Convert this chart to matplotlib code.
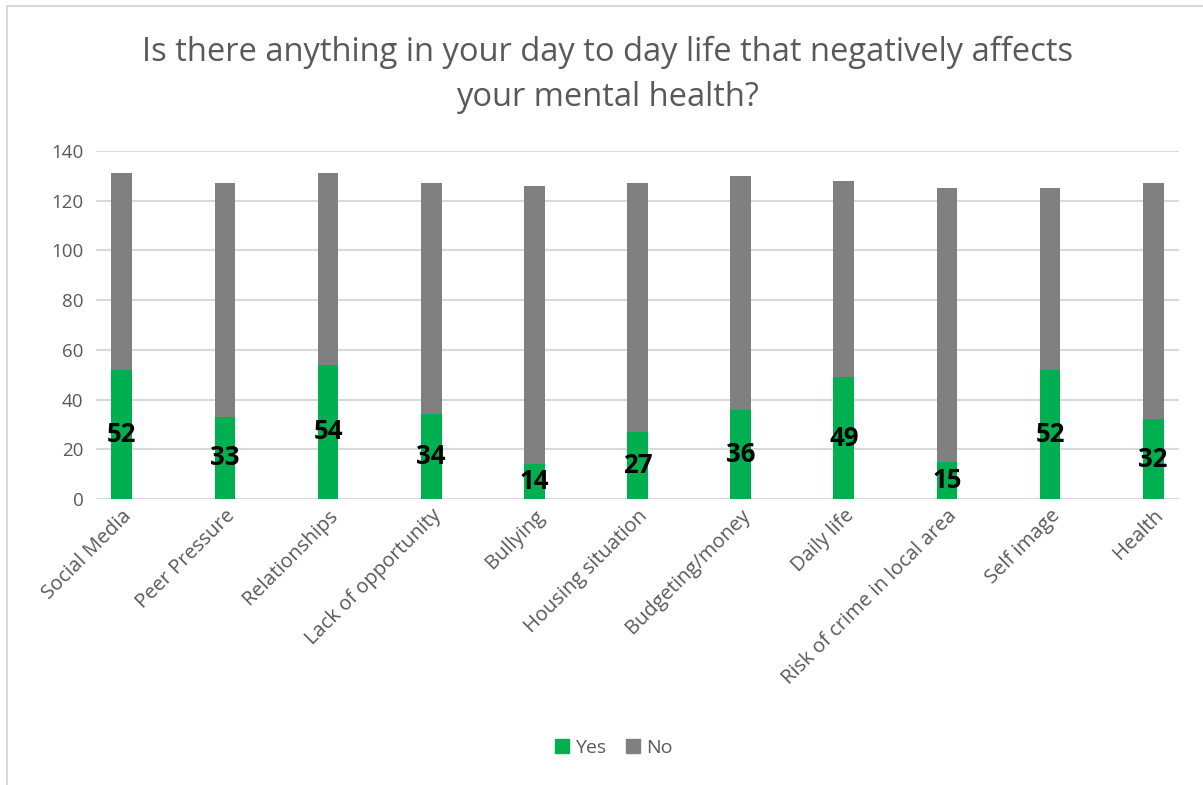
import matplotlib
matplotlib.use("Agg")
import matplotlib.pyplot as plt
from matplotlib.patches import Rectangle, Patch
import numpy as np

categories = ["Social Media", "Peer Pressure", "Relationships", "Lack of opportunity",
              "Bullying", "Housing situation", "Budgeting/money", "Daily life",
              "Risk of crime in local area", "Self image", "Health"]
yes_counts = [52, 33, 54, 34, 14, 27, 36, 49, 15, 52, 32]
no_counts = [79, 94, 77, 93, 112, 100, 94, 79, 110, 73, 95]
y_ticks = [0, 20, 40, 60, 80, 100, 120, 140]

GREEN = "#00B050"
GRAY = "#808080"
TEXT = "#595959"
GRID = "#D9D9D9"
FONT = "Open Sans"

fig = plt.figure(figsize=(12.03, 7.85), dpi=100)
fig.patches.append(Rectangle((7 / 1203, -0.1), 1.2, 1 - 6 / 785 + 0.1,
                             transform=fig.transFigure, fill=False,
                             edgecolor=GRID, linewidth=1.5))

ax = fig.add_axes([96 / 1203, 1 - 499 / 785, (1179 - 96) / 1203, (499 - 151) / 785])
x = np.arange(len(categories))
width = 0.2
ax.bar(x, yes_counts, width, color=GREEN, label="Yes", zorder=3)
ax.bar(x, no_counts, width, bottom=yes_counts, color=GRAY, label="No", zorder=3)

for xi, v in zip(x, yes_counts):
    ax.text(xi, v / 2, str(v), ha="center", va="center", fontsize=18.5,
            fontweight="bold", color="black", family=FONT, zorder=4)

ax.set_xlim(-0.25, len(categories) - 0.75)
ax.set_ylim(0, 140)
ax.set_yticks(y_ticks)
ax.set_yticklabels([str(t) for t in y_ticks], fontsize=13.5, color=TEXT, family=FONT)
ax.set_xticks(x)
ax.set_xticklabels(categories, rotation=45, ha="right", rotation_mode="anchor",
                   fontsize=14.5, color=TEXT, family=FONT)
ax.tick_params(axis="both", length=0)
ax.tick_params(axis="y", pad=9)
ax.tick_params(axis="x", pad=5)
ax.grid(axis="y", color=GRID, linewidth=1.5, zorder=0)
for s in ax.spines.values():
    s.set_visible(False)

fig.text(0.505, 1 - 75 / 785,
         "Is there anything in your day to day life that negatively affects\nyour mental health?",
         ha="center", va="center", fontsize=23.5, color=TEXT, family=FONT,
         linespacing=1.45)

handles = [Patch(color=GREEN, label="Yes"), Patch(color=GRAY, label="No")]
fig.legend(handles=handles, loc="center", bbox_to_anchor=(0.51, 1 - 748 / 785),
           ncol=2, frameon=False, prop={"family": FONT, "size": 14},
           handlelength=0.75, handleheight=0.75, handletextpad=0.3,
           columnspacing=1.0, labelcolor=TEXT)

fig.savefig("out.png", dpi=100)
